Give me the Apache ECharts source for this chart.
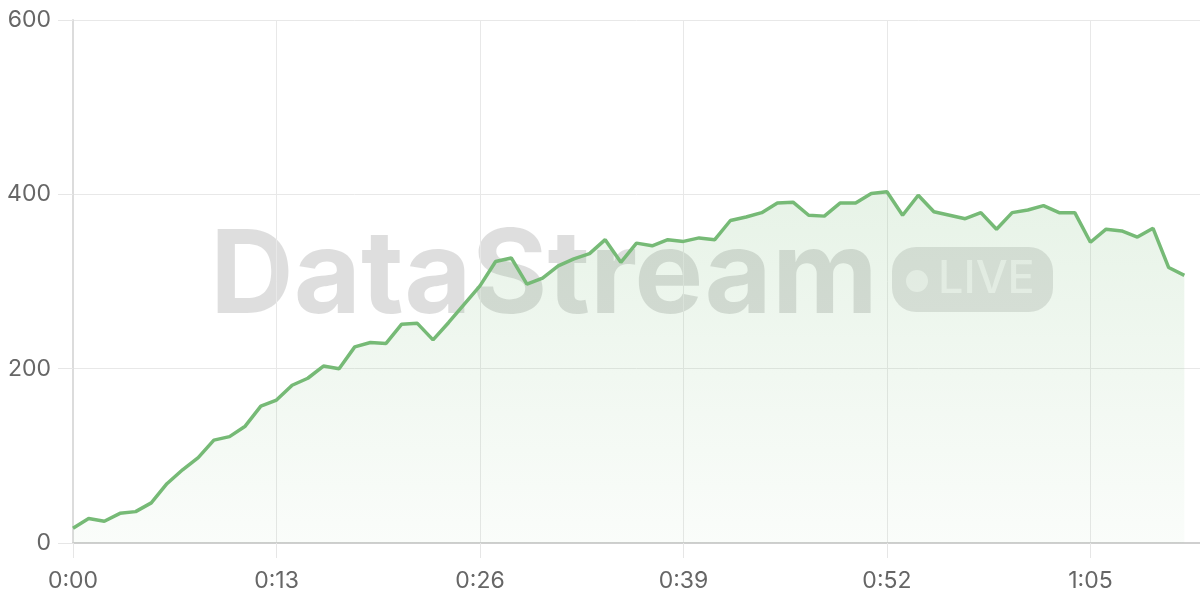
<!DOCTYPE html>
<html>
<head>
<meta charset="utf-8">
<script src="https://cdn.jsdelivr.net/npm/echarts@6/dist/echarts.min.js"></script>
<style>
html,body{margin:0;padding:0;background:#fff;}
#chart{width:1200px;height:600px;}
</style>
</head>
<body>
<div id="chart"></div>
<script>
// seconds elapsed for each sample
const seconds = [0,1,2,3,4,5,6,7,8,9,10,11,12,13,14,15,16,17,18,19,20,21,22,23,24,25,26,27,28,29,30,31,32,33,34,35,36,37,38,39,40,41,42,43,44,45,46,47,48,49,50,51,52,53,54,55,56,57,58,59,60,61,62,63,64,65,66,67,68,69,70,71];
// live value per sample
const values = [17,28,25,34,36,46,68,84,98,118,122,134,157,164,181,189,203,200,225,230,229,251,252,233,253,274,295,323,327,297,304,318,326,332,348,322,344,341,348,346,350,348,370,374,379,390,391,376,375,390,390,401,403,376,399,380,376,372,379,360,379,382,387,379,379,345,360,358,351,361,316,307];
const yTicks = [0,200,400,600];
const watermarkTitle = 'DataStream';
const badgeText = 'LIVE';

const fmt = s => Math.floor(s/60) + ':' + String(s%60).padStart(2,'0');

const chart = echarts.init(document.getElementById('chart'), null, {renderer:'canvas'});
chart.setOption({
  animation:false,
  backgroundColor:'#fff',
  textStyle:{fontFamily:'Inter'},
  grid:{left:73,right:0,top:20,bottom:57,containLabel:false},
  graphic:[
    {type:'text',z:0,left:210,top:220,style:{text:watermarkTitle,font:'bold 116px Inter',fill:'rgba(0,0,0,0.13)'}},
    {type:'rect',z:0,shape:{x:892,y:247,width:161,height:65,r:24},style:{fill:'rgba(0,0,0,0.11)'}},
    {type:'circle',z:0,shape:{cx:917,cy:281,r:11},style:{fill:'rgba(255,255,255,0.6)'}},
    {type:'text',z:0,left:938,top:257,style:{text:badgeText,font:'500 45px Inter',fill:'rgba(255,255,255,0.6)'}}
  ],
  xAxis:{
    type:'value',min:0,max:72,interval:13,
    axisLine:{show:true,lineStyle:{color:'#cfcfcf',width:2}},
    axisTick:{show:true,length:15,lineStyle:{color:'#e6e6e6'}},
    splitLine:{show:true,lineStyle:{color:'#e8e8e8',width:1}},
    axisLabel:{show:true,showMaxLabel:false,margin:27,fontSize:23,color:'#666',fontFamily:'Inter',formatter:v=>fmt(v)}
  },
  yAxis:{
    type:'value',min:yTicks[0],max:yTicks[yTicks.length-1],interval:200,
    axisLine:{show:true,lineStyle:{color:'#dcdcdc',width:2}},
    axisTick:{show:true,length:15,lineStyle:{color:'#e6e6e6'}},
    splitLine:{show:true,lineStyle:{color:'#e8e8e8',width:1}},
    axisLabel:{margin:22,fontSize:23,color:'#666',fontFamily:'Inter'}
  },
  series:[{
    type:'line',
    data:seconds.map((s,i)=>[s,values[i]]),
    showSymbol:false,
    lineStyle:{color:'#76ba76',width:3.5},
    itemStyle:{color:'#76ba76'},
    areaStyle:{color:new echarts.graphic.LinearGradient(0,0,0,1,[
      {offset:0,color:'rgba(118,186,118,0.25)'},
      {offset:1,color:'rgba(118,186,118,0.05)'}
    ])},
    z:3
  }]
});
</script>
</body>
</html>
